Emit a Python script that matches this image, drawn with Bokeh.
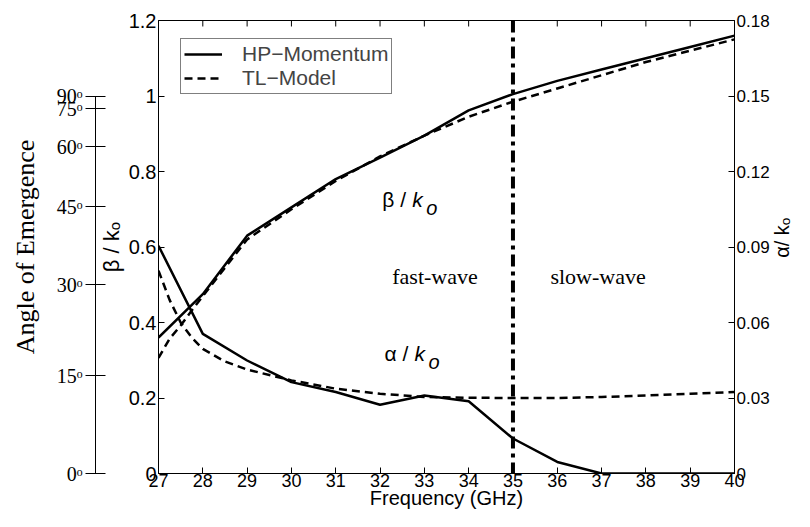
import numpy as np
from bokeh.plotting import figure
from bokeh.layouts import row
from bokeh.models import (LinearAxis, Range1d, FixedTicker, Span, Label, Legend, LegendItem)
from bokeh.embed import file_html
from bokeh.resources import INLINE

# ---- data ----
freq = [27, 28, 29, 30, 31, 32, 33, 34, 35, 36, 37, 38, 39, 40]
beta_hp = [0.36, 0.475, 0.63, 0.705, 0.78, 0.837, 0.895, 0.962, 1.005, 1.04, 1.07, 1.10, 1.13, 1.16]
alpha_hp = [0.0905, 0.0555, 0.0449, 0.0363, 0.0324, 0.0273, 0.031, 0.0287, 0.0139, 0.0046, 0.0, 0.0, 0.0, 0.0]

freq_tl = [27, 27.25, 27.5, 27.75, 28, 28.5, 29, 30, 31, 32, 33, 34, 35, 36, 37, 38, 39, 40]
beta_tl = [0.306, 0.357, 0.392, 0.432, 0.47, 0.545, 0.62, 0.70, 0.775, 0.84, 0.895, 0.945, 0.985, 1.02, 1.055, 1.09, 1.12, 1.15]
alpha_tl = [0.0806, 0.069, 0.060, 0.054, 0.0495, 0.0445, 0.0413, 0.037, 0.0337, 0.0317, 0.0304, 0.0301, 0.030, 0.030, 0.0304, 0.031, 0.0317, 0.0324]

x_ticks = list(range(27, 41))
beta_ticks = [0, 0.2, 0.4, 0.6, 0.8, 1.0, 1.2]
beta_labels = ["0", "0.2", "0.4", "0.6", "0.8", "1", "1.2"]
alpha_ticks = [0, 0.03, 0.06, 0.09, 0.12, 0.15, 0.18]
alpha_labels = ["0", "0.03", "0.06", "0.09", "0.12", "0.15", "0.18"]
angle_deg = [0, 15, 30, 45, 60, 75, 90]
angle_labels = ["0ᵒ", "15ᵒ", "30ᵒ", "45ᵒ", "60ᵒ", "75ᵒ", "90ᵒ"]
boundary_freq = 35
x_lo, x_hi = 27, 40
beta_lo, beta_hi = 0, 1.2
alpha_lo, alpha_hi = 0, 0.18

SANS = "Liberation Sans"
SERIF = "Liberation Serif"

TOTAL_W, TOTAL_H = 794, 511
SIDE_W = 22

p = figure(width=TOTAL_W - SIDE_W, height=TOTAL_H, x_range=Range1d(x_lo, x_hi),
           y_range=Range1d(beta_lo, beta_hi),
           output_backend="svg", toolbar_location=None,
           min_border_top=20, min_border_right=35, min_border_bottom=10, min_border_left=158)
p.extra_y_ranges = {"alpha": Range1d(alpha_lo, alpha_hi)}
p.grid.visible = False
p.outline_line_color = "black"
p.outline_line_width = 1
p.background_fill_color = "white"
p.border_fill_color = "white"

def style_axis(ax, size="20px"):
    ax.major_tick_in = 6
    ax.major_tick_out = 0
    ax.minor_tick_line_color = None
    ax.axis_line_color = "black"
    ax.major_tick_line_color = "black"
    ax.major_label_text_font = SANS
    ax.major_label_text_font_size = size
    ax.major_label_text_color = "black"
    ax.axis_label_text_font = SANS
    ax.axis_label_text_font_style = "normal"
    ax.axis_label_text_color = "black"

# x axis
xa = p.xaxis[0]
xa.ticker = FixedTicker(ticks=x_ticks)
style_axis(xa, "18px")
xa.major_label_standoff = 0
xa.axis_label = "Frequency (GHz)"
xa.axis_label_text_font_size = "20px"
xa.axis_label_standoff = -3

# beta axis (left)
ya = p.yaxis[0]
ya.ticker = FixedTicker(ticks=beta_ticks)
ya.major_label_overrides = {t: l for t, l in zip(beta_ticks, beta_labels)}
style_axis(ya, "20px")
ya.major_label_standoff = 2
ya.axis_label = "β / kₒ"
ya.axis_label_text_font_size = "22px"
ya.axis_label_standoff = 2

# spacer between beta axis and angle axis (no ticks, so nothing is drawn)
gap = LinearAxis(ticker=FixedTicker(ticks=[]))
gap.axis_line_color = "white"
gap.major_tick_line_color = "white"
gap.minor_tick_line_color = None
gap.major_tick_in = 0
gap.major_tick_out = 12
gap.major_label_standoff = 0
p.add_layout(gap, "left")

# angle of emergence axis (outer left)
angle_pos = [round(float(np.sin(np.radians(d))), 4) for d in angle_deg]
aa = LinearAxis(ticker=FixedTicker(ticks=angle_pos), bounds=(0, 1))
aa.major_label_overrides = {t: l for t, l in zip(angle_pos, angle_labels)}
aa.major_tick_in = 10
aa.major_tick_out = 10
aa.minor_tick_line_color = None
aa.axis_line_color = "black"
aa.major_tick_line_color = "black"
aa.major_label_text_font = SERIF
aa.major_label_text_font_size = "20px"
aa.major_label_text_color = "black"
aa.major_label_standoff = 3
aa.axis_label = "Angle of Emergence"
aa.axis_label_text_font = SERIF
aa.axis_label_text_font_style = "normal"
aa.axis_label_text_font_size = "26px"
aa.axis_label_text_color = "black"
aa.axis_label_standoff = 14
p.add_layout(aa, "left")

# right axis alpha (ticks and numbers)
ra = LinearAxis(y_range_name="alpha", ticker=FixedTicker(ticks=alpha_ticks))
ra.major_label_overrides = {t: l for t, l in zip(alpha_ticks, alpha_labels)}
style_axis(ra, "17px")
ra.major_label_standoff = 2
p.add_layout(ra, "right")

# top ticks (inward), taken from the x tick list
tick_len = (beta_hi - beta_lo) * 6 / 454
p.segment(x0=x_ticks, y0=[beta_hi] * len(x_ticks), x1=x_ticks,
          y1=[beta_hi - tick_len] * len(x_ticks), line_color="black", line_width=1)

# curves
r_hp = p.line(freq, beta_hp, line_width=2.5, color="black")
r_tl = p.line(freq_tl, beta_tl, line_width=2.5, color="black", line_dash="8 5")
p.line(freq, alpha_hp, line_width=2.5, color="black", y_range_name="alpha")
p.line(freq_tl, alpha_tl, line_width=2.5, color="black", line_dash="8 5", y_range_name="alpha")

# boundary between fast and slow wave
p.add_layout(Span(location=boundary_freq, dimension="height", line_color="black",
                  line_width=4, line_dash="12 5 4 5"))

# in-plot labels
def ratio_label(x, y, sym):
    p.add_layout(Label(x=x, y=y, text=sym + " / ", text_font=SANS, text_font_size="21px",
                       text_color="black"))
    p.add_layout(Label(x=x, y=y, x_offset=30, text="k", text_font=SANS, text_font_style="italic",
                       text_font_size="21px", text_color="black"))
    p.add_layout(Label(x=x, y=y, x_offset=44, y_offset=-8, text="o", text_font=SANS,
                       text_font_style="italic", text_font_size="20px", text_color="black"))

ratio_label(32.05, 0.695, "β")
ratio_label(32.1, 0.288, "α")

p.add_layout(Label(x=33.24, y=0.523, text="fast-wave", text_font=SERIF, text_font_size="22px",
                   text_align="center", text_baseline="middle", text_color="black"))
p.add_layout(Label(x=36.92, y=0.523, text="slow-wave", text_font=SERIF, text_font_size="22px",
                   text_align="center", text_baseline="middle", text_color="black"))

legend = Legend(items=[LegendItem(label="HP−Momentum", renderers=[r_hp]),
                       LegendItem(label="TL−Model", renderers=[r_tl])],
                location=(22, 379), margin=0, padding=3, spacing=0,
                glyph_width=38, glyph_height=20, label_height=20, label_standoff=20,
                label_text_font=SANS, label_text_font_size="21px",
                border_line_color="black", border_line_width=1,
                background_fill_alpha=1.0)
p.add_layout(legend)

# narrow strip on the right carrying the alpha title (read bottom-to-top)
side = figure(width=SIDE_W, height=TOTAL_H, x_range=Range1d(0, 1), y_range=Range1d(0, TOTAL_H),
              output_backend="svg", toolbar_location=None,
              x_axis_location=None, y_axis_location=None, min_border=0)
side.grid.visible = False
side.outline_line_color = None
side.background_fill_color = "white"
side.border_fill_color = "white"
side.add_layout(Label(x=0.45, y=266, text="α/ kₒ", angle=float(np.pi / 2),
                      text_align="center", text_baseline="middle",
                      text_font=SANS, text_font_size="20px", text_color="black"))

layout = row(p, side, spacing=0)
open("out.html", "w").write(file_html(layout, INLINE))
